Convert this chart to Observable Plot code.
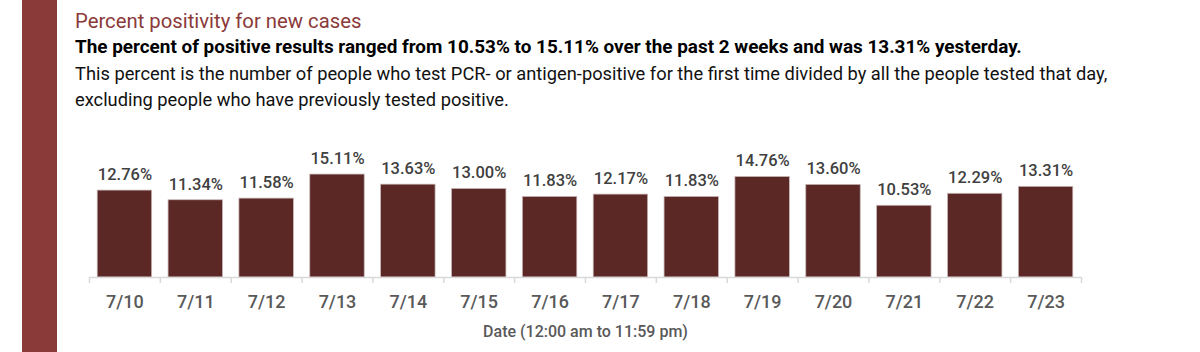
<!DOCTYPE html>
<html>
<head>
<meta charset="utf-8">
<script src="https://cdn.jsdelivr.net/npm/d3@7"></script>
<script src="https://cdn.jsdelivr.net/npm/@observablehq/plot@0.6"></script>
<style>
  html, body { margin: 0; padding: 0; background: #fff; width: 1200px; height: 352px; overflow: hidden; }
  body { position: relative; font-family: Roboto, "Liberation Sans", sans-serif; }
  #sidebar { position: absolute; left: 22px; top: 0; width: 35px; height: 352px; background: #8b3a3a; }
  .t { position: absolute; left: 75px; white-space: nowrap; line-height: 26px; }
  #title { top: 8px; font-size: 20.3px; color: #8b3a3a; }
  #sub { top: 34px; font-size: 18.9px; font-weight: 700; color: #000; }
  #note1 { top: 61px; font-size: 18.3px; color: #111; }
  #note2 { top: 87px; font-size: 18.3px; color: #111; }
  #chart { position: absolute; left: 0; top: 130px; }
</style>
</head>
<body>
<div id="sidebar"></div>
<div class="t" id="title">Percent positivity for new cases</div>
<div class="t" id="sub">The percent of positive results ranged from 10.53% to 15.11% over the past 2 weeks and was 13.31% yesterday.</div>
<div class="t" id="note1">This percent is the number of people who test PCR- or antigen-positive for the first time divided by all the people tested that day,</div>
<div class="t" id="note2">excluding people who have previously tested positive.</div>
<div id="chart"></div>
<script>
const dates = ["7/10","7/11","7/12","7/13","7/14","7/15","7/16","7/17","7/18","7/19","7/20","7/21","7/22","7/23"];
const values = [12.76, 11.34, 11.58, 15.11, 13.63, 13.00, 11.83, 12.17, 11.83, 14.76, 13.60, 10.53, 12.29, 13.31];
const xTitle = "Date (12:00 am to 11:59 pm)";

const data = dates.map((d, i) => ({date: d, i, value: values[i]}));
const fontFam = "Roboto, 'Liberation Sans', sans-serif";

const chart = Plot.plot({
  width: 1200,
  height: 222,
  marginLeft: 89,
  marginRight: 119,
  marginTop: 38,
  marginBottom: 75,
  style: {fontFamily: fontFam, background: "transparent"},
  x: {type: "linear", domain: [0, dates.length], axis: null, label: null},
  y: {domain: [0, 16], axis: null, label: null},
  marks: [
    Plot.rectY(data, {x1: "i", x2: d => d.i + 1, y: "value", fill: "#5c2826", stroke: "#c9b9b9", strokeWidth: 0.75, insetLeft: 8.2, insetRight: 8.2}),
    Plot.ruleY([0], {stroke: "#d9d9d9", strokeWidth: 1.5}),
    Plot.axisX(d3.range(dates.length + 1), {tickSize: 6, tickFormat: () => "", stroke: "#d9d9d9", strokeWidth: 1.5, label: null}),
    Plot.axisX(d3.range(dates.length).map(i => i + 0.5), {
      tickSize: 0, tickPadding: 18, tickFormat: v => dates[Math.floor(v)],
      fontSize: 18, fontWeight: 500, fill: "#595959", label: null
    }),
    Plot.text([xTitle], {frameAnchor: "bottom", text: d => d, dy: 59, fontSize: 16, fontWeight: 500, fill: "#595959"}),
    Plot.text(data, {x: d => d.i + 0.5, y: "value", text: d => d.value.toFixed(2) + "%", dy: -16, fontSize: 16.5, fontWeight: 500, fill: "#404040"})
  ]
});
document.getElementById("chart").appendChild(chart);
</script>
</body>
</html>
